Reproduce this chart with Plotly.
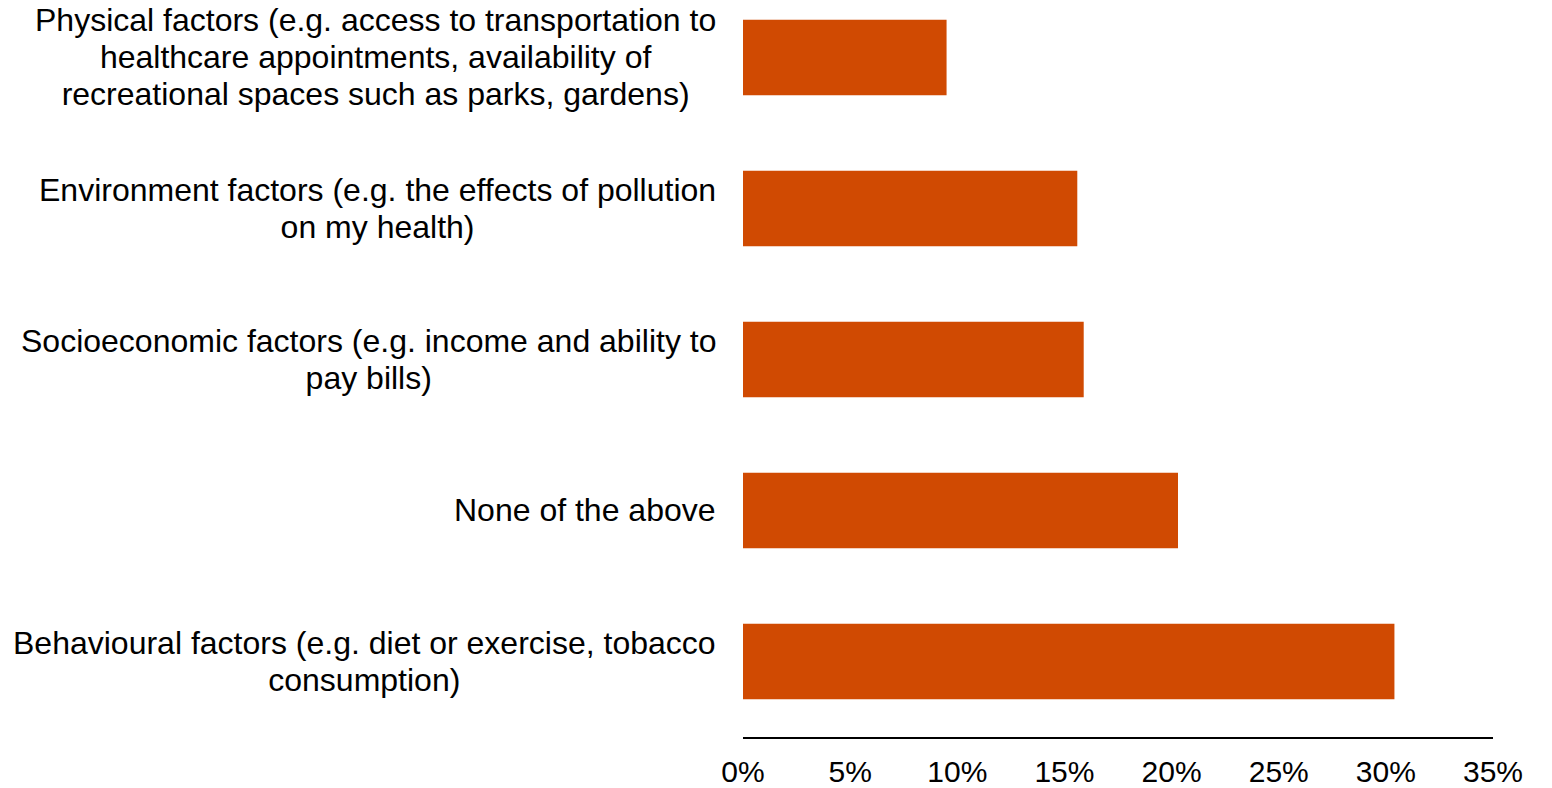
import plotly.graph_objects as go

categories = [
    "Behavioural factors (e.g. diet or exercise, tobacco<br>consumption)",
    "None of the above",
    "Socioeconomic factors (e.g. income and ability to<br>pay bills)",
    "Environment factors (e.g. the effects of pollution<br>on my health)",
    "Physical factors (e.g. access to transportation to<br>healthcare appointments, availability of<br>recreational spaces such as parks, gardens)",
]
values = [30.4, 20.3, 15.9, 15.6, 9.5]
x_ticks = [0, 5, 10, 15, 20, 25, 30, 35]

FONT = "Liberation Sans, Arial, sans-serif"
LABEL_SIZE = 32
LINE_GAP = 37  # desired line spacing in px (plotly uses 1.3em of base font)

fig = go.Figure(go.Bar(
    x=values, y=categories, orientation="h",
    marker=dict(color="#D04A02", line=dict(width=0)),
    width=0.5, hoverinfo="x+y",
))

for c in categories:
    lines = c.split("<br>")
    txt = "<br>".join(f"<span style='font-size:{LABEL_SIZE}px'>{l}</span>" for l in lines)
    fig.add_annotation(
        x=0, xref="paper", y=c, yref="y", text=txt,
        showarrow=False, xanchor="right", yanchor="middle", align="center",
        xshift=-25,
        font=dict(family=FONT, size=LINE_GAP / 1.3, color="#000000"),
    )

fig.update_layout(
    width=1552, height=788,
    margin=dict(l=743, r=59, t=0, b=51, autoexpand=False),
    paper_bgcolor="white", plot_bgcolor="white",
    showlegend=False,
    font=dict(family=FONT, size=31, color="#000000"),
    bargap=0.5,
)
fig.update_yaxes(
    type="category", categoryorder="array", categoryarray=categories,
    range=[-0.5, 4.38], showticklabels=False, showgrid=False, zeroline=False,
    showline=False, ticks="", automargin=False,
)
fig.update_xaxes(
    range=[0, 35], tickvals=x_ticks, ticktext=[f"{v}%" for v in x_ticks],
    showgrid=False, zeroline=False, showline=True, linecolor="#000000",
    linewidth=2, ticks="", ticklabelstandoff=7, automargin=False,
    tickfont=dict(family=FONT, size=30, color="#000000"),
)

fig.write_html("out.html")
